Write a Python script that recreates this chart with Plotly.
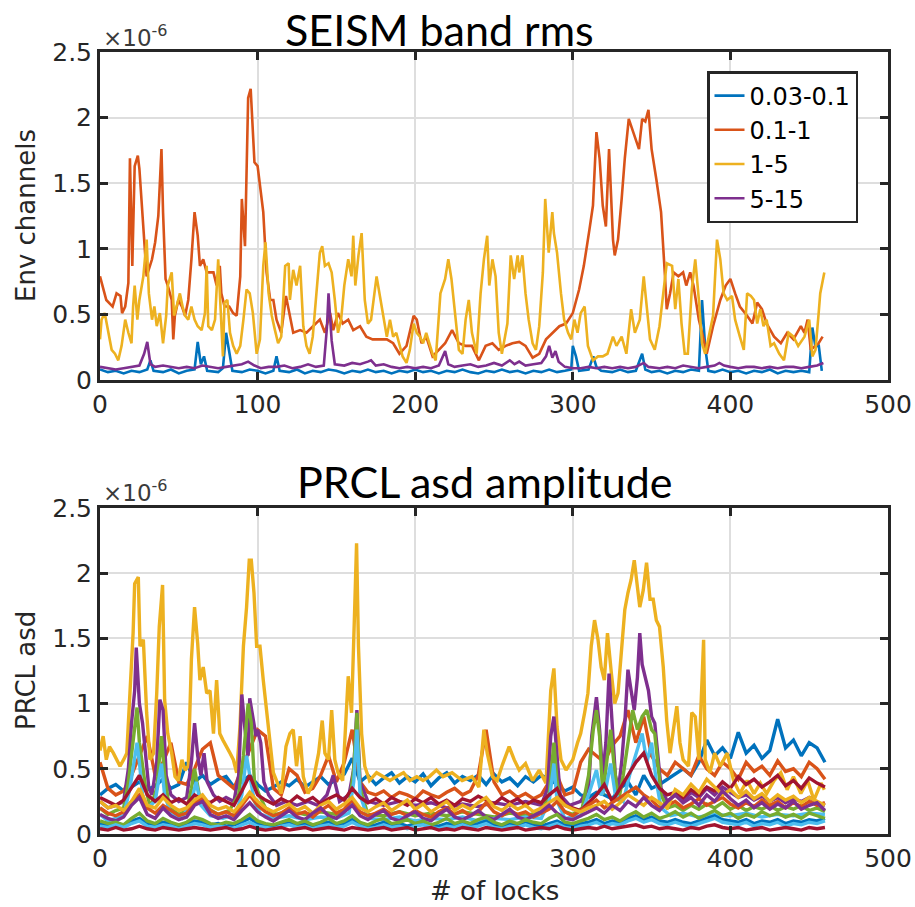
import plotly.graph_objects as go

# ---------------------------------------------------------------------------
# Data (values in units of 1e-6)
# ---------------------------------------------------------------------------
band_labels = ["0.03-0.1", "0.1-1", "1-5", "5-15"]

# SEISM band rms, 0.03-0.1 Hz
seism_low_x = [0, 5, 10, 15, 20, 25, 30, 32, 34, 40, 45, 50, 55, 60, 62, 64, 66, 68, 75, 78, 80, 82, 84,
               90, 95, 100, 105, 110, 112, 114, 120, 125, 130, 135, 140, 145, 150, 155, 160, 165, 170,
               175, 180, 185, 190, 195, 200, 205, 210, 215, 220, 225, 230, 235, 240, 245, 250, 255, 260,
               265, 270, 275, 280, 285, 290, 295, 299, 300, 302, 304, 310, 313, 315, 318, 325, 330, 335,
               340, 344, 346, 350, 355, 360, 365, 370, 375, 380, 382, 384, 386, 390, 395, 400, 405, 410,
               415, 420, 425, 430, 435, 440, 445, 450, 452, 454, 456, 458]
seism_low_y = [0.08, 0.06, 0.07, 0.05, 0.07, 0.06, 0.08, 0.15, 0.07, 0.06, 0.08, 0.05, 0.07, 0.08, 0.29, 0.12,
               0.18, 0.07, 0.06, 0.09, 0.36, 0.20, 0.07, 0.06, 0.08, 0.07, 0.05, 0.07, 0.18, 0.07, 0.06, 0.08,
               0.05, 0.07, 0.06, 0.08, 0.07, 0.05, 0.07, 0.06, 0.08, 0.06, 0.07, 0.05, 0.07, 0.06, 0.08, 0.06,
               0.07, 0.05, 0.07, 0.06, 0.08, 0.06, 0.05, 0.07, 0.06, 0.08, 0.06, 0.07, 0.05, 0.07, 0.06, 0.08,
               0.06, 0.07, 0.08, 0.26, 0.18, 0.07, 0.08, 0.18, 0.10, 0.07, 0.06, 0.08, 0.06, 0.07, 0.20, 0.08,
               0.06, 0.07, 0.05, 0.07, 0.06, 0.08, 0.07, 0.61, 0.25, 0.07, 0.06, 0.08, 0.06, 0.07, 0.05, 0.07,
               0.06, 0.08, 0.05, 0.07, 0.06, 0.07, 0.06, 0.40, 0.25, 0.27, 0.07]

# SEISM band rms, 0.1-1 Hz
seism_micro_x = [0, 4, 8, 10.5, 13, 14, 16, 18, 19, 20.5, 22, 24, 25, 27.5, 29.6, 33, 35, 37, 39, 40, 41.6,
                 43, 45.5, 46.5, 47.5, 49.7, 52, 54, 56, 58, 60, 62, 63.4, 65.5, 67.7, 72, 74, 76, 77, 79,
                 82, 84.5, 86.7, 89, 90, 92, 93, 94, 95.6, 97, 98, 100, 103.6, 105.7, 108, 110, 112, 115,
                 118, 122.6, 127, 131, 135, 139.5, 142.7, 146, 148, 151, 154, 157.5, 160.7, 165, 169, 173,
                 177.6, 182, 186, 190, 194.5, 199, 201, 204, 207, 211, 215, 219, 223.4, 227.7, 232, 236,
                 240.4, 244.7, 249, 253, 257.4, 261.7, 266, 270, 274.5, 278.7, 283, 287, 291.5, 295.7, 300,
                 304, 307, 310.6, 312.8, 315, 317, 319, 321, 323, 325.5, 326.6, 328.7, 331, 333, 335.5, 337,
                 340, 342, 344, 346, 348, 350, 353, 356, 358.5, 359.6, 361.7, 364, 367, 370, 372, 374.5,
                 376.6, 380, 383, 385, 389, 393.6, 397, 400, 403, 406, 410.6, 414, 417, 420, 423, 427.7,
                 432, 436, 440, 444.7, 447, 449, 451, 454, 456, 458.5]
seism_micro_y = [0.79, 0.61, 0.56, 0.66, 0.64, 0.51, 0.56, 0.74, 1.69, 0.87, 1.63, 1.71, 1.61, 1.12, 0.79,
                 0.92, 1.05, 1.25, 1.76, 1.28, 0.77, 0.72, 0.61, 0.31, 0.49, 0.61, 0.56, 0.49, 0.61, 0.92,
                 1.28, 1.10, 0.87, 0.92, 0.82, 0.82, 0.72, 0.87, 0.66, 0.56, 0.56, 0.51, 0.49, 0.79, 1.38,
                 1.02, 1.56, 2.15, 2.22, 1.94, 1.66, 1.63, 1.28, 0.82, 0.61, 0.61, 0.46, 0.36, 0.64, 0.36,
                 0.38, 0.36, 0.41, 0.46, 0.36, 0.51, 0.38, 0.51, 0.43, 0.46, 0.38, 0.41, 0.33, 0.31, 0.31,
                 0.31, 0.28, 0.20, 0.26, 0.49, 0.46, 0.28, 0.33, 0.18, 0.23, 0.28, 0.38, 0.28, 0.26, 0.26,
                 0.15, 0.26, 0.28, 0.23, 0.26, 0.28, 0.29, 0.26, 0.17, 0.20, 0.31, 0.36, 0.41, 0.43, 0.51,
                 0.69, 0.87, 1.15, 1.33, 1.89, 1.69, 1.33, 1.17, 1.76, 1.07, 0.95, 1.07, 1.38, 1.69, 1.99,
                 1.94, 1.84, 1.76, 1.99, 1.97, 2.06, 1.76, 1.53, 1.28, 0.79, 0.54, 0.66, 0.82, 0.79, 0.82,
                 0.72, 0.82, 0.72, 0.46, 0.31, 0.20, 0.41, 0.61, 0.72, 0.77, 0.66, 0.56, 0.49, 0.43, 0.59,
                 0.54, 0.43, 0.33, 0.28, 0.36, 0.31, 0.41, 0.36, 0.46, 0.23, 0.26, 0.28, 0.33]

# SEISM band rms, 1-5 Hz
seism_mid_x = [0, 1, 3, 5, 7.4, 9.5, 11.6, 13.7, 16, 18, 20, 21, 22, 23.7, 25, 27.5, 29.6, 31, 33, 34.5, 36,
               38, 40, 42, 43, 45.5, 47, 48.6, 50.7, 52.4, 54, 56, 58, 60, 62, 64.5, 66.6, 67.7, 68.7, 71,
               73, 75, 77, 78, 79, 80.8, 82.5, 84.5, 86.7, 89, 91, 93, 95, 97, 99.4, 101.5, 103.6, 105,
               107, 109, 111, 113, 115, 117.5, 119.7, 120.5, 122.6, 124.7, 127, 129, 131, 133, 135, 137.5,
               139.5, 141, 142.7, 145, 147, 149, 151, 153, 155, 157.5, 159.6, 160.7, 162, 164, 166, 168,
               170, 172, 175.5, 177.6, 180, 182, 184, 186, 188, 190, 192, 194.5, 196.6, 199, 201, 203,
               205, 207, 209, 211, 213, 216, 219, 221, 223, 225.5, 227.7, 230, 232, 234, 236, 239, 241.5,
               243.6, 245.7, 247, 249, 251, 253, 255, 258.5, 260.6, 262.8, 265, 266, 268, 270, 272, 274.5,
               276.6, 278.7, 281, 282.5, 284.7, 287, 288, 290, 292.5, 294.5, 297, 299, 301, 303, 305,
               307.5, 309.6, 312.8, 316, 319, 322, 325.5, 327.7, 331, 334, 337, 339.4, 342.5, 345, 347,
               349, 352, 355, 357.4, 359.6, 363, 365, 367, 369, 371, 373, 375.5, 377.7, 380, 382, 384,
               387, 389, 391.5, 393.6, 395.7, 398, 401, 403, 406, 408.5, 410.6, 413, 415, 417, 419, 421,
               423, 425.5, 427.7, 431, 434, 437, 440, 443, 447, 450, 452, 454, 456, 457, 459.6]
seism_mid_y = [0.31, 0.46, 0.51, 0.38, 0.23, 0.20, 0.15, 0.26, 0.46, 0.36, 0.28, 0.56, 0.72, 0.46, 0.61,
               0.79, 1.07, 0.66, 0.46, 0.56, 0.41, 0.51, 0.28, 0.49, 0.72, 0.82, 0.49, 0.56, 0.66, 0.56,
               0.49, 0.46, 0.56, 0.46, 0.41, 0.38, 0.51, 0.87, 0.41, 0.38, 0.46, 0.92, 0.46, 0.18, 0.59,
               0.61, 0.36, 0.26, 0.20, 0.26, 0.46, 0.69, 0.66, 0.51, 0.20, 0.31, 0.87, 1.05, 0.66, 0.49,
               0.38, 0.28, 0.33, 0.87, 0.89, 0.61, 0.84, 0.72, 0.87, 0.41, 0.26, 0.20, 0.33, 0.72, 0.97,
               1.02, 0.87, 0.89, 0.82, 0.61, 0.36, 0.46, 0.72, 0.92, 0.79, 1.10, 0.72, 0.95, 1.12, 0.61,
               0.43, 0.46, 0.79, 0.64, 0.46, 0.33, 0.46, 0.33, 0.36, 0.26, 0.18, 0.13, 0.23, 0.43, 0.36,
               0.33, 0.28, 0.36, 0.28, 0.20, 0.15, 0.66, 0.77, 0.92, 0.77, 0.46, 0.23, 0.20, 0.46, 0.61,
               0.36, 0.20, 0.66, 0.92, 1.10, 0.72, 0.92, 0.79, 0.36, 0.20, 0.43, 0.95, 0.77, 0.95, 0.82,
               0.95, 0.66, 0.46, 0.28, 0.23, 0.41, 0.82, 1.38, 0.97, 1.28, 1.12, 0.97, 0.66, 0.46, 0.36,
               0.31, 0.46, 0.36, 0.51, 0.56, 0.26, 0.15, 0.18, 0.18, 0.20, 0.33, 0.26, 0.33, 0.20, 0.54,
               0.36, 0.46, 0.79, 0.56, 0.31, 0.23, 0.41, 0.66, 0.89, 0.87, 0.54, 0.77, 0.43, 0.20, 0.20,
               0.69, 0.92, 0.61, 0.28, 0.20, 0.38, 0.49, 1.07, 0.92, 0.66, 0.61, 0.64, 0.46, 0.33, 0.23,
               0.66, 0.64, 0.61, 0.43, 0.54, 0.41, 0.46, 0.26, 0.28, 0.20, 0.15, 0.36, 0.33, 0.26, 0.33,
               0.46, 0.18, 0.23, 0.51, 0.66, 0.82]

# SEISM band rms, 5-15 Hz
seism_high_x = [0, 5, 10, 15, 20, 25, 28, 30, 32, 35, 40, 45, 50, 55, 60, 65, 70, 75, 80, 85, 90, 94, 98,
                102, 107, 112, 117, 122, 127, 132, 137, 142, 144, 145, 147, 149, 155, 160, 165, 170, 172,
                175, 180, 185, 190, 195, 200, 205, 210, 215, 219, 221, 225, 230, 235, 240, 245, 250, 255,
                260, 263, 266, 270, 275, 280, 283, 285, 287, 289, 291, 295, 300, 305, 310, 315, 320, 325,
                330, 335, 340, 345, 348, 355, 360, 365, 370, 375, 380, 385, 390, 393, 396, 400, 405, 410,
                415, 420, 425, 430, 435, 440, 445, 450, 455, 459]
seism_high_y = [0.10, 0.09, 0.08, 0.09, 0.10, 0.11, 0.20, 0.29, 0.12, 0.10, 0.11, 0.10, 0.09, 0.10, 0.09,
                0.11, 0.10, 0.09, 0.10, 0.11, 0.12, 0.14, 0.11, 0.09, 0.10, 0.10, 0.11, 0.09, 0.10, 0.12,
                0.10, 0.11, 0.40, 0.66, 0.30, 0.12, 0.11, 0.13, 0.12, 0.14, 0.15, 0.11, 0.12, 0.10, 0.09,
                0.10, 0.09, 0.10, 0.09, 0.11, 0.22, 0.12, 0.10, 0.11, 0.12, 0.10, 0.11, 0.13, 0.11, 0.15,
                0.12, 0.14, 0.11, 0.12, 0.13, 0.18, 0.26, 0.17, 0.22, 0.14, 0.10, 0.09, 0.09, 0.10, 0.09,
                0.10, 0.09, 0.10, 0.09, 0.10, 0.13, 0.10, 0.09, 0.10, 0.09, 0.11, 0.10, 0.09, 0.10, 0.11,
                0.13, 0.11, 0.10, 0.09, 0.10, 0.10, 0.09, 0.10, 0.09, 0.10, 0.10, 0.09, 0.10, 0.11, 0.13]

# PRCL asd amplitude channels sampled every 5 locks (lock 0 .. 460)
lock_step = 5
prcl_blue_a = [0.30, 0.35, 0.38, 0.33, 0.36, 0.40, 0.34, 0.37, 0.42, 0.35,
               0.38, 0.55, 0.40, 0.45, 0.38, 0.42, 0.44, 0.36, 0.40, 0.45,
               0.38, 0.33, 0.36, 0.40, 0.37, 0.42, 0.36, 0.40, 0.44, 0.38,
               0.42, 0.46, 0.58, 0.40, 0.45, 0.38, 0.43, 0.47, 0.39, 0.44,
               0.40, 0.46, 0.37, 0.43, 0.47, 0.39, 0.44, 0.41, 0.45, 0.38,
               0.46, 0.40, 0.43, 0.37, 0.44, 0.40, 0.45, 0.42, 0.38, 0.33,
               0.36, 0.30, 0.28, 0.32, 0.30, 0.27, 0.35, 0.40, 0.30, 0.45,
               0.35, 0.38, 0.42, 0.46, 0.50, 0.45, 0.55, 0.72, 0.60, 0.66,
               0.58, 0.78, 0.62, 0.68, 0.58, 0.64, 0.88, 0.66, 0.72, 0.60,
               0.70, 0.66, 0.55]
prcl_orange_a = [0.55, 0.35, 0.30, 0.33, 0.45, 0.60, 0.75, 0.45, 0.55, 0.70,
                 0.40, 0.38, 0.50, 0.65, 0.70, 0.45, 0.40, 0.35, 0.50, 0.65,
                 0.80, 0.75, 0.35, 0.30, 0.50, 0.45, 0.32, 0.35, 0.45, 0.60,
                 0.40, 0.55, 0.80, 0.40, 0.32, 0.30, 0.33, 0.28, 0.32, 0.30,
                 0.27, 0.33, 0.30, 0.28, 0.32, 0.35, 0.30, 0.33, 0.45, 0.80,
                 0.40, 0.30, 0.33, 0.28, 0.31, 0.27, 0.30, 0.40, 0.45, 0.30,
                 0.32, 0.55, 0.65, 0.60, 0.55, 0.68, 0.75, 0.95, 0.70, 0.90,
                 0.60, 0.50, 0.45, 0.55, 0.50, 0.45, 0.60, 0.50, 0.45, 0.55,
                 0.50, 0.42, 0.55, 0.48, 0.52, 0.45, 0.56, 0.48, 0.50, 0.44,
                 0.55, 0.50, 0.42]
prcl_red_a = [0.28, 0.25, 0.22, 0.26, 0.35, 0.45, 0.30, 0.25, 0.30, 0.24,
              0.27, 0.23, 0.30, 0.26, 0.24, 0.28, 0.25, 0.22, 0.33, 0.45,
              0.30, 0.26, 0.23, 0.27, 0.24, 0.29, 0.25, 0.28, 0.23, 0.27,
              0.30, 0.26, 0.35, 0.28, 0.24, 0.27, 0.23, 0.28, 0.25, 0.22,
              0.27, 0.24, 0.28, 0.23, 0.26, 0.22, 0.27, 0.25, 0.29, 0.26,
              0.23, 0.28, 0.24, 0.27, 0.22, 0.26, 0.24, 0.30, 0.35, 0.22,
              0.20, 0.18, 0.24, 0.30, 0.38, 0.25, 0.35, 0.45, 0.55, 0.62,
              0.45, 0.35, 0.30, 0.32, 0.28, 0.34, 0.30, 0.36, 0.33, 0.40,
              0.35, 0.44, 0.38, 0.42, 0.36, 0.40, 0.45, 0.37, 0.41, 0.35,
              0.43, 0.39, 0.36]
prcl_blue_b = [0.08, 0.07, 0.09, 0.06, 0.10, 0.12, 0.08, 0.07, 0.09, 0.08,
               0.06, 0.08, 0.10, 0.09, 0.07, 0.08, 0.06, 0.07, 0.09, 0.12,
               0.08, 0.07, 0.06, 0.08, 0.09, 0.07, 0.08, 0.06, 0.08, 0.09,
               0.07, 0.08, 0.11, 0.08, 0.06, 0.07, 0.09, 0.07, 0.08, 0.06,
               0.08, 0.09, 0.07, 0.06, 0.08, 0.07, 0.09, 0.07, 0.08, 0.10,
               0.07, 0.06, 0.08, 0.07, 0.09, 0.07, 0.06, 0.08, 0.10, 0.07,
               0.06, 0.08, 0.09, 0.11, 0.08, 0.10, 0.09, 0.12, 0.14, 0.11,
               0.13, 0.10, 0.09, 0.11, 0.09, 0.08, 0.10, 0.12, 0.14, 0.11,
               0.10, 0.09, 0.11, 0.08, 0.10, 0.09, 0.11, 0.08, 0.10, 0.09,
               0.11, 0.10, 0.12]
prcl_orange_b = [0.20, 0.16, 0.14, 0.17, 0.25, 0.30, 0.20, 0.16, 0.22, 0.18,
                 0.14, 0.16, 0.24, 0.28, 0.18, 0.15, 0.17, 0.14, 0.22, 0.30,
                 0.22, 0.17, 0.14, 0.16, 0.20, 0.15, 0.17, 0.13, 0.18, 0.22,
                 0.16, 0.19, 0.26, 0.17, 0.14, 0.16, 0.19, 0.15, 0.17, 0.14,
                 0.18, 0.15, 0.13, 0.17, 0.20, 0.15, 0.18, 0.14, 0.17, 0.24,
                 0.17, 0.14, 0.18, 0.15, 0.17, 0.13, 0.16, 0.19, 0.25, 0.17,
                 0.14, 0.18, 0.22, 0.26, 0.20, 0.24, 0.28, 0.32, 0.36, 0.30,
                 0.26, 0.20, 0.22, 0.25, 0.20, 0.23, 0.27, 0.22, 0.25, 0.28,
                 0.23, 0.20, 0.24, 0.21, 0.26, 0.22, 0.25, 0.20, 0.24, 0.21,
                 0.25, 0.22, 0.24]
prcl_yellow_b = [0.25, 0.20, 0.22, 0.18, 0.25, 0.35, 0.22, 0.20, 0.28, 0.22,
                 0.18, 0.20, 0.26, 0.30, 0.22, 0.19, 0.21, 0.17, 0.24, 0.32,
                 0.25, 0.20, 0.17, 0.20, 0.23, 0.18, 0.21, 0.16, 0.22, 0.25,
                 0.19, 0.23, 0.28, 0.20, 0.17, 0.21, 0.24, 0.18, 0.22, 0.26,
                 0.19, 0.23, 0.17, 0.21, 0.25, 0.18, 0.22, 0.19, 0.24, 0.28,
                 0.21, 0.18, 0.23, 0.19, 0.22, 0.17, 0.20, 0.24, 0.28, 0.22,
                 0.19, 0.17, 0.20, 0.22, 0.25, 0.19, 0.24, 0.30, 0.26, 0.22,
                 0.28, 0.24, 0.20, 0.34, 0.30, 0.38, 0.32, 0.42, 0.36, 0.30,
                 0.34, 0.28, 0.33, 0.27, 0.31, 0.25, 0.30, 0.26, 0.29, 0.24,
                 0.28, 0.25, 0.22]
prcl_purple_b = [0.15, 0.12, 0.10, 0.13, 0.22, 0.28, 0.15, 0.12, 0.20, 0.14,
                 0.11, 0.13, 0.22, 0.25, 0.15, 0.12, 0.14, 0.11, 0.18, 0.24,
                 0.17, 0.13, 0.10, 0.14, 0.18, 0.13, 0.11, 0.16, 0.20, 0.14,
                 0.12, 0.17, 0.22, 0.14, 0.11, 0.15, 0.18, 0.12, 0.10, 0.14,
                 0.17, 0.12, 0.10, 0.15, 0.19, 0.13, 0.11, 0.14, 0.18, 0.13,
                 0.11, 0.15, 0.19, 0.13, 0.11, 0.14, 0.17, 0.22, 0.16, 0.12,
                 0.11, 0.14, 0.17, 0.20, 0.16, 0.22, 0.18, 0.25, 0.21, 0.28,
                 0.22, 0.18, 0.25, 0.30, 0.24, 0.28, 0.22, 0.30, 0.25, 0.33,
                 0.27, 0.22, 0.26, 0.20, 0.24, 0.19, 0.23, 0.20, 0.25, 0.19,
                 0.22, 0.24, 0.18]
prcl_green_b = [0.10, 0.08, 0.09, 0.07, 0.12, 0.16, 0.10, 0.08, 0.12, 0.09,
                0.07, 0.09, 0.13, 0.11, 0.08, 0.07, 0.09, 0.08, 0.11, 0.15,
                0.10, 0.08, 0.07, 0.09, 0.11, 0.08, 0.10, 0.07, 0.09, 0.12,
                0.08, 0.10, 0.14, 0.09, 0.07, 0.10, 0.12, 0.08, 0.09, 0.11,
                0.08, 0.10, 0.07, 0.09, 0.12, 0.08, 0.10, 0.08, 0.11, 0.13,
                0.09, 0.07, 0.10, 0.08, 0.11, 0.09, 0.08, 0.12, 0.15, 0.09,
                0.08, 0.10, 0.12, 0.15, 0.11, 0.13, 0.10, 0.14, 0.17, 0.13,
                0.16, 0.12, 0.14, 0.17, 0.13, 0.16, 0.12, 0.15, 0.18, 0.14,
                0.16, 0.12, 0.15, 0.13, 0.17, 0.14, 0.16, 0.13, 0.15, 0.12,
                0.16, 0.14, 0.12]
prcl_cyan_b = [0.06, 0.05, 0.07, 0.05, 0.08, 0.10, 0.06, 0.05, 0.07, 0.06,
               0.04, 0.06, 0.08, 0.07, 0.05, 0.06, 0.05, 0.04, 0.07, 0.09,
               0.06, 0.05, 0.04, 0.06, 0.07, 0.05, 0.06, 0.04, 0.06, 0.07,
               0.05, 0.06, 0.09, 0.06, 0.04, 0.05, 0.07, 0.05, 0.06, 0.04,
               0.06, 0.07, 0.05, 0.04, 0.06, 0.05, 0.07, 0.05, 0.06, 0.08,
               0.05, 0.04, 0.06, 0.05, 0.07, 0.05, 0.04, 0.06, 0.08, 0.05,
               0.04, 0.06, 0.07, 0.09, 0.06, 0.08, 0.07, 0.10, 0.12, 0.09,
               0.11, 0.08, 0.07, 0.09, 0.07, 0.06, 0.08, 0.10, 0.12, 0.09,
               0.08, 0.07, 0.09, 0.06, 0.08, 0.07, 0.09, 0.06, 0.08, 0.07,
               0.09, 0.08, 0.10]
prcl_red_b = [0.04, 0.03, 0.05, 0.03, 0.04, 0.06, 0.04, 0.03, 0.05, 0.04,
              0.03, 0.04, 0.05, 0.04, 0.03, 0.04, 0.05, 0.03, 0.04, 0.06,
              0.04, 0.03, 0.04, 0.05, 0.03, 0.04, 0.05, 0.03, 0.04, 0.05,
              0.04, 0.03, 0.05, 0.04, 0.03, 0.04, 0.05, 0.03, 0.04, 0.05,
              0.03, 0.04, 0.05, 0.03, 0.04, 0.03, 0.05, 0.04, 0.03, 0.05,
              0.04, 0.03, 0.04, 0.05, 0.03, 0.04, 0.05, 0.04, 0.06, 0.04,
              0.03, 0.04, 0.05, 0.04, 0.06, 0.04, 0.05, 0.06, 0.07, 0.05,
              0.06, 0.04, 0.05, 0.04, 0.03, 0.05, 0.04, 0.06, 0.07, 0.05,
              0.04, 0.05, 0.03, 0.04, 0.05, 0.03, 0.04, 0.05, 0.04, 0.03,
              0.05, 0.04, 0.05]

# PRCL asd amplitude channels with sharp excursions (irregularly read)
prcl_yellow_a_x = [0, 2, 4, 6, 8.5, 10.6, 12.7, 15, 17, 19, 21, 22, 24.3, 25.4, 27.5, 29.6, 31.7, 34, 36,
                   37.6, 39.7, 41, 43, 45.5, 47.6, 49.7, 52, 54, 56, 58, 60, 62, 63.4, 65.5, 67.7, 69.8,
                   72, 74, 76, 78, 80, 82.5, 84.6, 86.7, 88.8, 91, 93, 94.7, 96, 97.7, 99.4, 101.5, 103.6,
                   105.7, 108, 110, 112, 115, 118, 120.5, 122.6, 124.7, 127, 129, 132, 135, 138.7, 141,
                   142.7, 145, 147, 149, 151, 154, 157.5, 159.6, 161.7, 162.8, 164, 166, 168, 171, 175.5,
                   180, 184, 188, 192.6, 196.6, 201, 205, 209, 213.5, 217.7, 223.4, 229.8, 236, 240.4,
                   243.6, 245.7, 249, 252, 255, 259.6, 262.8, 266, 270, 274.5, 278.7, 283, 286, 288, 290,
                   292.5, 295.7, 300, 303, 305, 307.5, 309.6, 311.7, 313.8, 316, 318, 320, 322, 324.5,
                   326.6, 328.7, 331, 333, 335, 337, 339, 340.4, 342.5, 344.7, 346.8, 349, 351, 353, 355,
                   357.4, 359.6, 361.7, 364, 366, 368, 370, 373.4, 375.5, 377.7, 380, 383, 384, 387, 390,
                   393.6, 398, 402, 406, 410.6, 415, 419, 423, 427.7, 432, 436, 440, 444.7, 449, 453,
                   457.5, 459.6]
prcl_yellow_a_y = [0.64, 0.75, 0.57, 0.67, 0.62, 0.57, 0.52, 0.57, 0.62, 1.08, 1.54, 1.92, 1.97, 1.44,
                   1.49, 0.93, 0.57, 0.62, 1.08, 1.59, 1.91, 1.03, 0.77, 0.62, 0.44, 0.41, 0.57, 0.49,
                   0.52, 1.34, 1.74, 1.46, 1.18, 1.28, 1.08, 1.10, 0.77, 1.18, 0.77, 0.72, 0.67, 0.62,
                   0.57, 0.47, 0.82, 1.44, 1.74, 2.10, 2.10, 1.85, 1.44, 1.44, 1.18, 0.93, 0.70, 0.47,
                   0.41, 0.31, 0.67, 0.77, 0.80, 0.52, 0.75, 0.44, 0.31, 0.39, 0.62, 0.87, 0.62, 0.57,
                   0.95, 0.57, 0.47, 0.41, 1.21, 0.93, 1.77, 2.23, 1.44, 0.77, 0.52, 0.41, 0.47, 0.44,
                   0.41, 0.44, 0.47, 0.41, 0.44, 0.41, 0.44, 0.49, 0.44, 0.47, 0.41, 0.44, 0.36, 0.80,
                   0.62, 0.44, 0.41, 0.52, 0.67, 0.57, 0.49, 0.54, 0.41, 0.49, 0.39, 1.10, 1.27, 0.82,
                   0.57, 0.49, 0.57, 0.70, 0.77, 0.93, 1.08, 1.44, 1.64, 1.49, 1.28, 1.18, 1.54, 1.23,
                   1.00, 1.08, 1.39, 1.72, 1.85, 1.95, 2.10, 1.97, 1.74, 1.87, 2.08, 1.80, 1.80, 1.64,
                   1.59, 1.28, 0.87, 0.62, 0.80, 0.98, 0.70, 0.57, 0.52, 0.93, 0.90, 0.57, 1.49, 0.57,
                   0.47, 0.62, 0.52, 0.62, 0.41, 0.31, 0.41, 0.31, 0.39, 0.31, 0.41, 0.47, 0.34, 0.44,
                   0.31, 0.41, 0.26, 0.39, 0.34]
prcl_purple_a_x = [0, 5, 10, 15, 18, 20, 22, 23, 25, 27, 29, 31, 33, 35, 36, 38, 40, 42, 45, 50, 55, 58,
                   60, 62, 64, 66, 68, 72, 76, 80, 85, 88, 90, 92, 94, 95, 97, 99, 100, 102, 104, 107,
                   112, 118, 125, 132, 138, 144, 148, 152, 158, 161, 163, 165, 170, 180, 190, 200, 210,
                   220, 230, 240, 250, 260, 270, 280, 284, 286, 288, 290, 292, 298, 305, 310, 312, 315,
                   317, 319, 321, 323, 325, 327, 329, 331, 333, 335, 337, 339, 341, 342.5, 344, 346, 348,
                   350, 352, 354, 356, 360, 365, 370, 375, 380, 385, 390, 395, 400, 405, 410, 415, 420,
                   425, 430, 435, 440, 445, 450, 455, 460]
prcl_purple_a_y = [0.25, 0.20, 0.22, 0.25, 0.50, 0.85, 1.10, 1.43, 1.00, 0.85, 0.60, 0.35, 0.30, 0.45,
                   0.55, 1.03, 0.95, 0.45, 0.30, 0.25, 0.28, 0.55, 0.85, 0.60, 0.45, 0.62, 0.40, 0.30,
                   0.25, 0.28, 0.25, 0.45, 1.07, 0.80, 0.60, 1.04, 0.90, 0.75, 0.80, 0.70, 0.40, 0.30,
                   0.22, 0.25, 0.22, 0.25, 0.22, 0.30, 0.45, 0.25, 0.30, 0.50, 0.95, 0.40, 0.25, 0.22,
                   0.25, 0.22, 0.24, 0.20, 0.23, 0.21, 0.24, 0.22, 0.25, 0.22, 0.35, 0.75, 0.90, 0.60,
                   0.30, 0.22, 0.25, 0.35, 0.75, 1.05, 0.80, 0.45, 0.70, 1.23, 0.80, 0.45, 0.35, 0.55,
                   0.85, 1.26, 1.10, 0.95, 1.20, 1.54, 1.30, 1.20, 1.10, 0.90, 0.85, 0.60, 0.35, 0.25,
                   0.30, 0.25, 0.32, 0.28, 0.35, 0.30, 0.36, 0.32, 0.28, 0.30, 0.26, 0.29, 0.25, 0.28,
                   0.24, 0.27, 0.25, 0.28, 0.24, 0.22]
prcl_green_a_x = [0, 5, 10, 15, 18, 20, 22, 23.5, 25, 27, 29, 32, 36, 39, 41, 44, 50, 55, 58, 60, 63, 68,
                  75, 82, 88, 91, 94, 96, 98, 101, 105, 112, 120, 130, 140, 150, 158, 161, 163, 165, 170,
                  180, 190, 200, 210, 220, 230, 240, 250, 260, 270, 280, 285, 288, 290, 293, 300, 306,
                  310, 313, 315, 317, 319, 322, 324, 326, 329, 332, 335, 338, 341, 344, 347, 350, 352,
                  354, 356, 360, 365, 370, 375, 380, 385, 390, 395, 400, 405, 410, 415, 420, 425, 430,
                  435, 440, 445, 450, 455, 460]
prcl_green_a_y = [0.20, 0.15, 0.18, 0.20, 0.40, 0.60, 0.80, 0.97, 0.70, 0.50, 0.35, 0.20, 0.35, 0.75,
                  0.45, 0.20, 0.15, 0.18, 0.35, 0.50, 0.30, 0.20, 0.15, 0.18, 0.30, 0.60, 1.00, 0.85,
                  0.40, 0.30, 0.20, 0.15, 0.18, 0.15, 0.17, 0.15, 0.20, 0.50, 0.93, 0.35, 0.15, 0.14,
                  0.17, 0.14, 0.16, 0.14, 0.17, 0.15, 0.13, 0.16, 0.14, 0.17, 0.30, 0.70, 0.40, 0.18,
                  0.15, 0.20, 0.45, 0.80, 0.95, 0.75, 0.30, 0.60, 0.80, 0.55, 0.25, 0.45, 0.70, 0.95,
                  0.80, 0.90, 0.95, 0.80, 0.77, 0.50, 0.30, 0.20, 0.22, 0.18, 0.22, 0.19, 0.23, 0.20,
                  0.24, 0.19, 0.22, 0.18, 0.21, 0.19, 0.22, 0.18, 0.21, 0.19, 0.22, 0.18, 0.20, 0.17]
prcl_cyan_a_x = [0, 5, 10, 15, 19, 21, 23.5, 25, 27, 30, 35, 39, 41, 45, 52, 58, 61, 64, 70, 78, 86, 90,
                 93, 95, 98, 102, 110, 120, 130, 140, 150, 158, 161, 163, 165, 170, 180, 190, 200, 210,
                 220, 230, 240, 250, 260, 270, 280, 285, 288, 290, 295, 305, 310, 315, 318, 321, 324,
                 327, 332, 336, 340, 344, 347, 350, 353, 356, 362, 370, 380, 390, 400, 410, 420, 430,
                 440, 450, 460]
prcl_cyan_a_y = [0.15, 0.10, 0.12, 0.14, 0.35, 0.50, 0.70, 0.55, 0.30, 0.20, 0.25, 0.54, 0.30, 0.15,
                 0.12, 0.25, 0.40, 0.22, 0.14, 0.12, 0.15, 0.30, 0.60, 0.45, 0.25, 0.15, 0.12, 0.14,
                 0.11, 0.13, 0.12, 0.16, 0.40, 0.80, 0.30, 0.12, 0.11, 0.13, 0.10, 0.12, 0.11, 0.13,
                 0.10, 0.12, 0.11, 0.13, 0.12, 0.25, 0.54, 0.25, 0.12, 0.14, 0.30, 0.49, 0.30, 0.35,
                 0.54, 0.30, 0.25, 0.45, 0.60, 0.77, 0.55, 0.70, 0.40, 0.20, 0.14, 0.16, 0.13, 0.15,
                 0.14, 0.16, 0.13, 0.15, 0.14, 0.16, 0.15]

# Axis ticks
x_ticks = [0, 100, 200, 300, 400, 500]
y_ticks = [0, 0.5, 1, 1.5, 2, 2.5]
y_tick_text = ["0", "0.5", "1", "1.5", "2", "2.5"]

# ---------------------------------------------------------------------------
# Styling
# ---------------------------------------------------------------------------
W, H = 915, 907
C_BLUE, C_ORANGE, C_YELLOW = "#0072BD", "#D95319", "#EDB120"
C_PURPLE, C_GREEN, C_CYAN, C_RED = "#7E2F8E", "#77AC30", "#4DBEEE", "#A2142F"
AX_COL = "#262626"
GRID_COL = "#dedede"
SANS = "DejaVu Sans, Verdana, sans-serif"
TICK_FONT = dict(family=SANS, size=25, color=AX_COL)
LABEL_FONT = dict(family=SANS, size=26, color=AX_COL)
TITLE_FONT = dict(family="Lato, Open Sans, sans-serif", size=43, color="black")


def px_x(p):
    return p / W


def px_y(p):
    return 1 - p / H


fig = go.Figure()

# Top panel
top_series = [
    (seism_low_x, seism_low_y, C_BLUE, band_labels[0]),
    (seism_micro_x, seism_micro_y, C_ORANGE, band_labels[1]),
    (seism_mid_x, seism_mid_y, C_YELLOW, band_labels[2]),
    (seism_high_x, seism_high_y, C_PURPLE, band_labels[3]),
]
for xs, ys, col, name in top_series:
    fig.add_trace(go.Scatter(x=xs, y=ys, mode="lines", name=name,
                             line=dict(color=col, width=2.6),
                             xaxis="x", yaxis="y", showlegend=True))

# Bottom panel
grid_x = [i * lock_step for i in range(len(prcl_blue_a))]
bottom_series = [
    (grid_x, prcl_blue_a, C_BLUE),
    (grid_x, prcl_orange_a, C_ORANGE),
    (prcl_yellow_a_x, prcl_yellow_a_y, C_YELLOW),
    (prcl_purple_a_x, prcl_purple_a_y, C_PURPLE),
    (prcl_green_a_x, prcl_green_a_y, C_GREEN),
    (prcl_cyan_a_x, prcl_cyan_a_y, C_CYAN),
    (grid_x, prcl_red_a, C_RED),
    (grid_x, prcl_blue_b, C_BLUE),
    (grid_x, prcl_orange_b, C_ORANGE),
    (grid_x, prcl_yellow_b, C_YELLOW),
    (grid_x, prcl_purple_b, C_PURPLE),
    (grid_x, prcl_green_b, C_GREEN),
    (grid_x, prcl_cyan_b, C_CYAN),
    (grid_x, prcl_red_b, C_RED),
]
for xs, ys, col in bottom_series:
    fig.add_trace(go.Scatter(x=xs, y=ys, mode="lines",
                             line=dict(color=col, width=3.4),
                             xaxis="x2", yaxis="y2", showlegend=False))

axis_common = dict(
    showline=True, mirror="allticks", linecolor=AX_COL, linewidth=3,
    ticks="inside", ticklen=8, tickwidth=2.5, tickcolor=AX_COL,
    showgrid=True, gridcolor=GRID_COL, gridwidth=2,
    zeroline=False, tickfont=TICK_FONT, automargin=False,
)

x_dom = [px_x(100), px_x(888)]
fig.update_layout(
    width=W, height=H, autosize=False,
    margin=dict(l=0, r=0, t=0, b=0, pad=0, autoexpand=False),
    paper_bgcolor="white", plot_bgcolor="white",
    xaxis=dict(domain=x_dom, range=[0, 500], tickvals=x_ticks, anchor="y", **axis_common),
    yaxis=dict(domain=[px_y(380), px_y(52)], range=[0, 2.5], tickvals=y_ticks,
               ticktext=y_tick_text, anchor="x", **axis_common),
    xaxis2=dict(domain=x_dom, range=[0, 500], tickvals=x_ticks, anchor="y2", **axis_common),
    yaxis2=dict(domain=[px_y(834), px_y(508)], range=[0, 2.5], tickvals=y_ticks,
                ticktext=y_tick_text, anchor="x2", **axis_common),
    legend=dict(x=px_x(707), y=px_y(71), xanchor="left", yanchor="top",
                bgcolor="white", bordercolor=AX_COL, borderwidth=2.5,
                font=dict(family=SANS, size=24, color="black"),
                tracegroupgap=0),
    showlegend=True,
)

annotations = [
    dict(text="SEISM band rms", x=px_x(439), y=px_y(29), font=TITLE_FONT),
    dict(text="PRCL asd amplitude", x=px_x(485), y=px_y(481), font=TITLE_FONT),
    dict(text="Env channels", x=px_x(26), y=px_y(216), textangle=-90, font=LABEL_FONT),
    dict(text="PRCL asd", x=px_x(26), y=px_y(671), textangle=-90, font=LABEL_FONT),
    dict(text="# of locks", x=px_x(494), y=px_y(891), font=LABEL_FONT),
    dict(text="×10<sup>-6</sup>", x=px_x(101), y=px_y(36), xanchor="left",
         font=dict(family=SANS, size=23, color="#3a3a3a")),
    dict(text="×10<sup>-6</sup>", x=px_x(101), y=px_y(491), xanchor="left",
         font=dict(family=SANS, size=23, color="#3a3a3a")),
]
for a in annotations:
    a.setdefault("xanchor", "center")
    fig.add_annotation(xref="paper", yref="paper", showarrow=False, yanchor="middle", **a)

fig.write_html("out.html")
